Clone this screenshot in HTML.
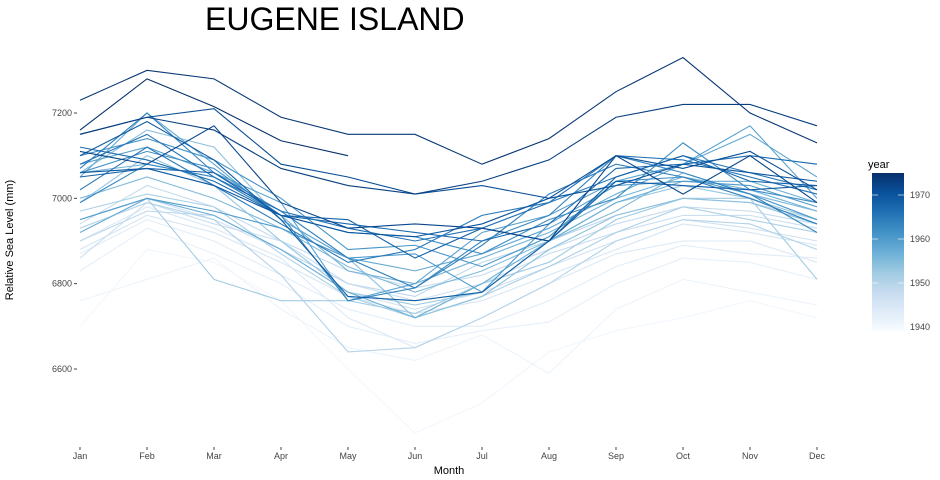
<!DOCTYPE html>
<html><head><meta charset="utf-8"><style>
body{margin:0;background:#fff;font-family:"Liberation Sans",sans-serif;}
svg{display:block}
</style></head><body>
<svg id="chart" width="940" height="480">
<defs><linearGradient id="cb" x1="0" y1="1" x2="0" y2="0">
<stop offset="0" stop-color="#f7fbff"/><stop offset="0.125" stop-color="#deebf7"/><stop offset="0.25" stop-color="#c6dbef"/><stop offset="0.375" stop-color="#9ecae1"/><stop offset="0.5" stop-color="#6baed6"/><stop offset="0.625" stop-color="#4292c6"/><stop offset="0.75" stop-color="#2171b5"/><stop offset="0.875" stop-color="#08519c"/><stop offset="1" stop-color="#08306b"/></linearGradient></defs>
<text x="205" y="30" font-size="32" fill="#000">EUGENE ISLAND</text>
<g id="axes"></g>
<g id="lines"></g>
<text x="449" y="474" font-size="11" text-anchor="middle" fill="#000">Month</text>
<text transform="translate(13,240) rotate(-90)" font-size="11" text-anchor="middle" fill="#000">Relative Sea Level (mm)</text>
<g>
<text x="868" y="168" font-size="11" fill="#000">year</text>
<rect x="872" y="173" width="32" height="158" fill="url(#cb)"/>
<g id="legend-ticks"></g>
</g>
</svg>
<script>
const months=["Jan","Feb","Mar","Apr","May","Jun","Jul","Aug","Sep","Oct","Nov","Dec"];
const yTicks=[6600,6800,7000,7200];
const legendYears=[1940,1950,1960,1970];
const years=[1940,1941,1942,1943,1944,1945,1946,1947,1948,1949,1950,1951,1952,1953,1954,1955,1956,1957,1958,1959,1960,1961,1962,1963,1964,1965,1966,1967,1968,1969,1970,1971,1972,1973,1974,1975];
const levels=[
[6700,6880,6850,6760,6600,6450,6520,6640,6690,6720,6760,6720],
[6760,6810,6860,6740,6650,6620,6680,6590,6740,6810,6780,6750],
[6830,6930,6870,6800,6700,6660,6690,6710,6800,6860,6850,6810],
[6870,6950,6900,6820,6740,6700,6700,6760,6840,6890,6870,6860],
[6900,6980,6930,6860,6720,6650,6720,6800,6870,6900,6900,6850],
[6880,6960,6920,6850,6770,6730,6760,6820,6880,6940,6920,6890],
[6920,7000,6950,6880,6780,6740,6780,6840,6900,6950,6930,6900],
[6860,6990,6940,6900,6800,6760,6800,6870,6920,6960,6960,6930],
[6940,7030,6980,6900,6830,6790,6820,6880,6940,6980,6970,6940],
[6900,6970,6960,6880,6800,6770,6850,6900,6960,7000,6990,6950],
[6930,6990,6950,6820,6640,6650,6720,6800,6900,6950,6940,6880],
[6970,7010,6980,6870,6770,6720,6770,6840,6920,6980,6950,6920],
[6950,7000,6810,6760,6760,6730,6800,6850,6950,7000,7000,6810],
[6990,7100,7030,6900,6780,6750,6780,6900,6990,7030,7000,6950],
[7060,7160,7120,6950,6860,6720,6770,6880,6960,7000,6990,6940],
[7000,7050,7000,6930,6840,6780,6830,6900,6970,7060,7010,6970],
[7060,7080,7050,6960,6830,6800,6860,6920,7000,7050,7020,6970],
[6920,7000,6960,6880,6780,6720,6800,6900,6990,7040,7040,6990],
[7050,7200,7080,6950,6860,6830,6870,6930,7010,7080,7150,7050],
[7080,7120,7060,6990,6760,6800,6920,6960,7040,7080,7170,7000],
[6950,7000,6970,6930,6860,6870,6780,6940,7030,7040,7030,6980],
[7100,7140,7090,7000,6880,6890,6840,6910,7040,7050,7010,6950],
[7060,7110,7070,6960,6920,6910,6870,6950,7000,7130,7020,6990],
[6990,7080,7050,6960,6760,6790,6900,6960,7100,7060,7010,6920],
[7070,7200,7060,6970,6860,6790,6890,7010,7080,7050,7000,6940],
[7020,7120,7030,6940,6850,6880,6960,6990,7050,7100,7060,7020],
[7080,7150,7050,6970,6930,6900,6930,6990,7100,7090,7050,7010],
[7120,7090,7040,6960,6940,6920,6900,6940,7070,7080,7100,7080],
[7050,7070,7060,6960,6950,6860,6930,6900,7050,7100,7040,7030],
[7100,7180,7090,6950,6770,6760,6780,6900,7040,7030,7020,7030],
[7060,7070,7030,6960,6920,6910,6940,7000,7030,7080,7060,7040],
[7150,7190,7210,7080,7050,7010,7030,7000,7100,7070,7110,7020],
[7110,7080,7170,6990,6930,6940,6930,6900,7100,7010,7100,6990],
[7150,7190,7160,7070,7030,7010,7040,7090,7190,7220,7220,7170],
[7230,7300,7280,7190,7150,7150,7080,7140,7250,7330,7200,7130],
[7160,7280,7215,7135,7100]
];
const NS="http://www.w3.org/2000/svg";
const xs=i=>80+i*67;
const ys=v=>113+(7200-v)*85.33/200;
const ly=yr=>327-(yr-1940)*4.4;
const stops=["#f7fbff","#deebf7","#c6dbef","#9ecae1","#6baed6","#4292c6","#2171b5","#08519c","#08306b"];
function hex(c){return [1,3,5].map(i=>parseInt(c.substr(i,2),16));}
function color(yr){let t=(yr-1939)/(1975-1939);t=Math.max(0,Math.min(1,t))*(stops.length-1);const i=Math.min(Math.floor(t),stops.length-2),f=t-i;const a=hex(stops[i]),b=hex(stops[i+1]);return "rgb("+a.map((v,k)=>Math.round(v+(b[k]-v)*f)).join(",")+")";}
const ax=document.getElementById("axes");
months.forEach((m,i)=>{
const t=document.createElementNS(NS,"text");t.setAttribute("x",xs(i));t.setAttribute("y",459);t.setAttribute("font-size","9");t.setAttribute("text-anchor","middle");t.setAttribute("fill","#444");t.textContent=m;


ax.appendChild(t);
const l=document.createElementNS(NS,"line");l.setAttribute("x1",xs(i));l.setAttribute("x2",xs(i));l.setAttribute("y1",447);l.setAttribute("y2",450);l.setAttribute("stroke","#444");


ax.appendChild(l);});
yTicks.forEach(v=>{
const t=document.createElementNS(NS,"text");t.setAttribute("x",72);t.setAttribute("y",ys(v)+3);t.setAttribute("font-size","9");t.setAttribute("text-anchor","end");t.setAttribute("fill","#444");t.textContent=v;


ax.appendChild(t);
const l=document.createElementNS(NS,"line");l.setAttribute("x1",74);l.setAttribute("x2",77);l.setAttribute("y1",ys(v));l.setAttribute("y2",ys(v));l.setAttribute("stroke","#444");


ax.appendChild(l);});
const lg=document.getElementById("lines");
years.forEach((yr,k)=>{
const p=document.createElementNS(NS,"polyline");
p.setAttribute("points",levels[k].map((v,i)=>xs(i)+","+ys(v)).join(" "));
p.setAttribute("fill","none");p.setAttribute("stroke",color(yr));p.setAttribute("stroke-width","1.1");


lg.appendChild(p);});
const lt=document.getElementById("legend-ticks");
legendYears.forEach(yr=>{
[[872,878],[898,904]].forEach(([a,b])=>{const l=document.createElementNS(NS,"line");l.setAttribute("x1",a);l.setAttribute("x2",b);l.setAttribute("y1",ly(yr));l.setAttribute("y2",ly(yr));l.setAttribute("stroke","#fff");l.setAttribute("stroke-opacity","0.6");


lt.appendChild(l);});
const t=document.createElementNS(NS,"text");t.setAttribute("x",910);t.setAttribute("y",ly(yr)+3);t.setAttribute("font-size","9");t.setAttribute("fill","#444");t.textContent=yr;


lt.appendChild(t);});
</script>
</body></html>
